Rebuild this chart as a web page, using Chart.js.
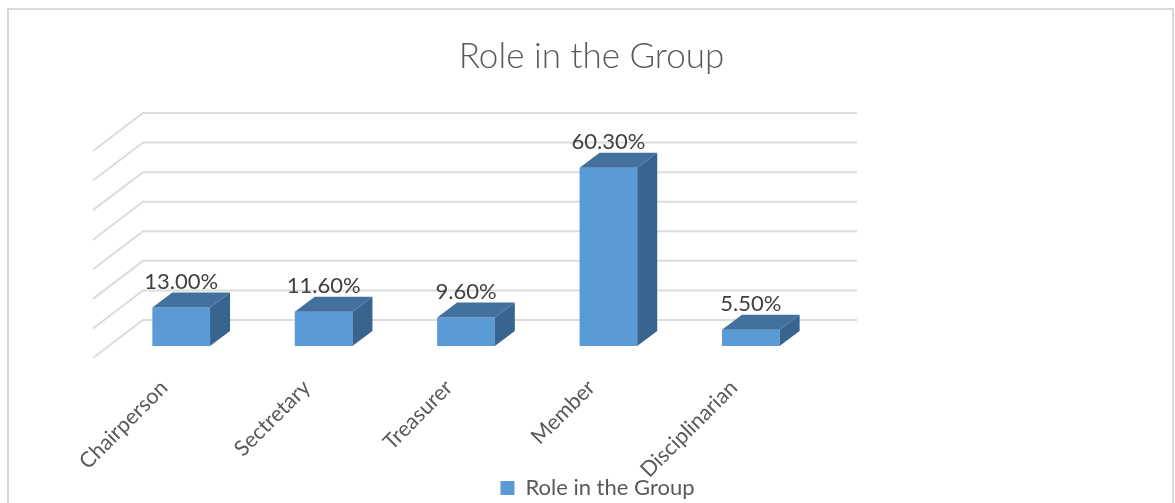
<!DOCTYPE html>
<html>
<head>
  <title>Role in the Group</title>
  <script src="https://cdn.jsdelivr.net/npm/chart.js"></script>
  <style>
    body { margin: 0; background: #fff; }
    #wrap { width: 1175px; height: 503px; }
  </style>
</head>
<body>
  <div id="wrap"><canvas id="role-chart"></canvas></div>
  <script>
    const categories = ['Chairperson', 'Sectretary', 'Treasurer', 'Member', 'Disciplinarian'];
    const roleValues = [13.0, 11.6, 9.6, 60.3, 5.5];
    const wallTicks = [0, 10, 20, 30, 40, 50, 60, 70];
    const seriesName = 'Role in the Group';

    // 3D look: the bars sit on the front plane, the wall is further back
    const wallShift = { x: 34, y: -26 };
    const barDepth = { x: 20, y: -15 };

    const frame3d = {
      id: 'frame3d',
      afterLayout(chart) {
        // legend sits a little right of and below where the layout puts it
        const legend = chart.legend;
        legend.left += 6;
        legend.right += 6;
        legend.top += 6;
        legend.bottom += 6;
        // the long rotated label runs down into the legend, don't clip it
        chart.scales.x.bottom = chart.height;
      },
      beforeDraw(chart) {
        const ctx = chart.ctx;
        ctx.save();
        ctx.fillStyle = '#fff';
        ctx.fillRect(0, 0, chart.width, chart.height);
        ctx.strokeStyle = '#d9d9d9';
        ctx.lineWidth = 2;
        ctx.beginPath();
        ctx.moveTo(8, 503);
        ctx.lineTo(8, 9);
        ctx.lineTo(1173, 9);
        ctx.lineTo(1173, 503);
        ctx.stroke();
        ctx.restore();
      },
      beforeDatasetsDraw(chart) {
        const ctx = chart.ctx;
        const yScale = chart.scales.y;
        const left = chart.chartArea.left + wallShift.x - 1;
        ctx.save();
        ctx.strokeStyle = '#dcdcdc';
        ctx.lineWidth = 2;
        wallTicks.forEach(v => {
          const y = yScale.getPixelForValue(v) + wallShift.y;
          ctx.beginPath();
          ctx.moveTo(93, y + 38);
          ctx.lineTo(left, y);
          ctx.lineTo(857, y);
          ctx.stroke();
        });
        ctx.restore();
      },
      afterDatasetsDraw(chart) {
        const ctx = chart.ctx;
        const bars = chart.getDatasetMeta(0).data;
        ctx.save();
        bars.forEach((bar, i) => {
          const l = bar.x - bar.width / 2;
          const r = bar.x + bar.width / 2;
          // top face
          ctx.fillStyle = '#41719c';
          ctx.beginPath();
          ctx.moveTo(l, bar.y);
          ctx.lineTo(l + barDepth.x, bar.y + barDepth.y);
          ctx.lineTo(r + barDepth.x, bar.y + barDepth.y);
          ctx.lineTo(r, bar.y);
          ctx.closePath();
          ctx.fill();
          // side face
          ctx.fillStyle = '#38658f';
          ctx.beginPath();
          ctx.moveTo(r, bar.y);
          ctx.lineTo(r + barDepth.x, bar.y + barDepth.y);
          ctx.lineTo(r + barDepth.x, bar.base + barDepth.y);
          ctx.lineTo(r, bar.base);
          ctx.closePath();
          ctx.fill();
          // value label
          ctx.fillStyle = '#404040';
          ctx.font = '22px Lato';
          ctx.textAlign = 'center';
          ctx.textBaseline = 'middle';
          ctx.fillText(roleValues[i].toFixed(2) + '%', bar.x, bar.y - 26);
        });
        ctx.restore();
      }
    };

    new Chart(document.getElementById('role-chart').getContext('2d'), {
      type: 'bar',
      data: {
        labels: categories,
        datasets: [{
          label: seriesName,
          data: roleValues,
          backgroundColor: '#5b9bd5',
          categoryPercentage: 0.81,
          barPercentage: 0.5
        }]
      },
      options: {
        responsive: true,
        maintainAspectRatio: false,
        animation: false,
        layout: { padding: { left: 8 } },
        plugins: {
          title: {
            display: true,
            text: seriesName,
            color: '#595959',
            font: { family: 'Lato', size: 35, weight: 300 },
            padding: { top: 36, bottom: 61 }
          },
          legend: {
            position: 'bottom',
            labels: {
              color: '#595959',
              font: { family: 'Lato', size: 22 },
              boxWidth: 14,
              boxHeight: 14,
              padding: 5
            }
          },
          tooltip: { enabled: false }
        },
        scales: {
          x: {
            grid: { display: false },
            border: { display: false },
            ticks: {
              color: '#595959',
              font: { family: 'Lato', size: 21.5 },
              minRotation: 45,
              maxRotation: 45,
              padding: 21,
              labelOffset: -17
            },
            afterFit(s) {
              s.height = 120;
              s.paddingLeft = 110;
              s.paddingRight = 353;
            }
          },
          y: { display: false, min: 0, max: 70 }
        }
      },
      plugins: [frame3d]
    });
  </script>
</body>
</html>
